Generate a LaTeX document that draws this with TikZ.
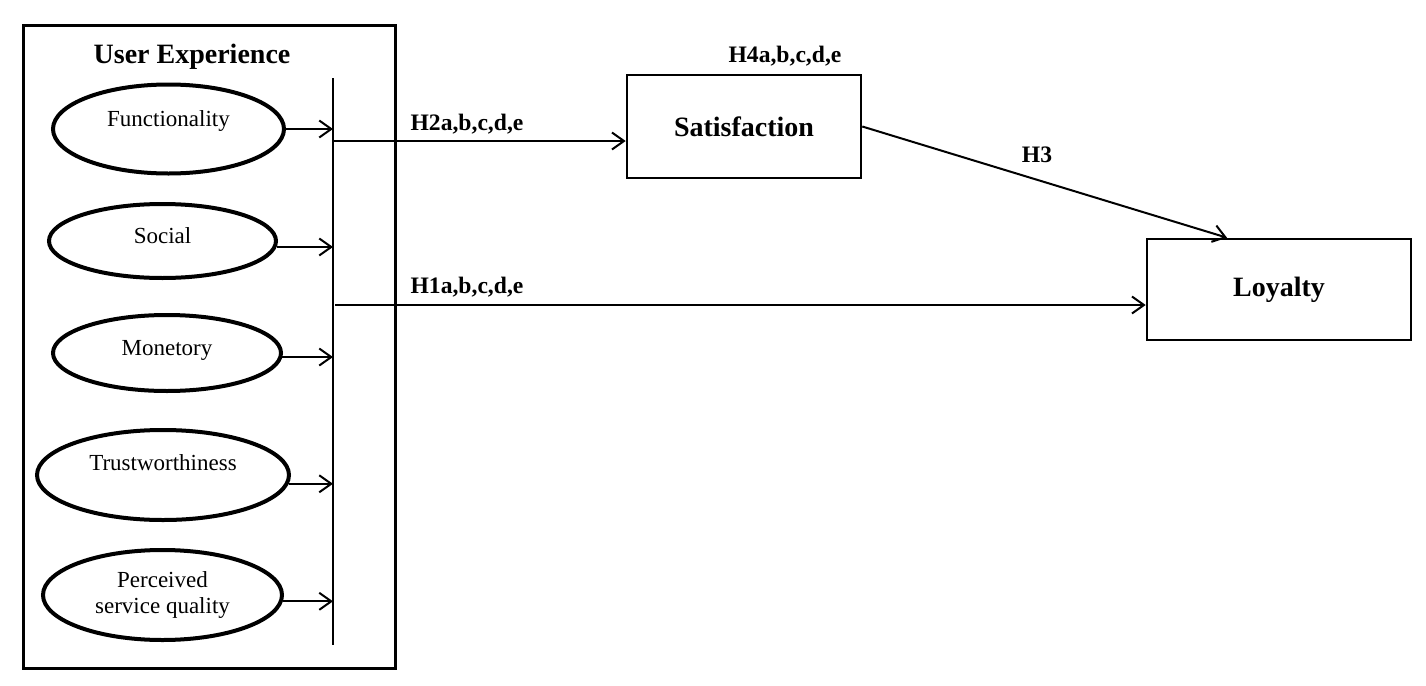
\documentclass[tikz,border=0pt]{standalone}
\usepackage{fontspec}
\setmainfont{Liberation Serif}
\usepackage{tikz}
\usetikzlibrary{positioning, calc, shapes, arrows.meta}

\begin{document}
\begin{tikzpicture}[x=0.5pt, y=-0.5pt,
        oval/.style={ellipse, draw, line width=2pt, inner sep=0pt},
        ovaltext/.style={font=\fontsize{11.5}{13}\selectfont, align=center, inner sep=0pt},
        box/.style={rectangle, draw, line width=1.3pt, inner sep=0pt},
        boxtext/.style={font=\fontsize{14}{16}\selectfont\bfseries},
        hyp/.style={font=\fontsize{11.8}{13}\selectfont\bfseries, anchor=base, inner sep=0pt},
        arr/.style={-{Straight Barb[length=6pt, width=8.5pt]}, line width=1pt}
    ]

    \useasboundingbox (0,0) rectangle (1426,686);

    \node[box, line width=1.5pt, minimum width=186pt, minimum height=321.5pt] (ux) at (209,346.5) {};
    \node[boxtext, anchor=base, inner sep=0pt] (uxtitle) at (192,63) {User Experience};

    \coordinate (bartop) at (333,78);
    \coordinate (barbot) at (333,645);
    \draw[line width=1pt] (bartop) -- (barbot);

    \node[oval, minimum width=115.5pt, minimum height=44.5pt] (func) at (168.5,129) {};
    \node[oval, minimum width=113.5pt, minimum height=37pt] (soc) at (162.5,241) {};
    \node[oval, minimum width=114pt, minimum height=38pt] (mon) at (167,353) {};
    \node[oval, minimum width=126pt, minimum height=45pt] (trust) at (163,475) {};
    \node[oval, minimum width=119.5pt, minimum height=45pt] (qual) at (162.5,595) {};

    \node[ovaltext, anchor=base] (functxt) at ([yshift=1.5pt]func.center) {Functionality};
    \node[ovaltext, anchor=base] (soctxt) at ([yshift=-1pt]soc.center) {Social};
    \node[ovaltext, anchor=base] (montxt) at ([yshift=-1pt]mon.center) {Monetory};
    \node[ovaltext, anchor=base] (trusttxt) at ([yshift=2.5pt]trust.center) {Trustworthiness};
    \node[ovaltext] (qualtxt) at (qual.center) {Perceived\\ service quality};

    \draw[arr] (func.east) -- (func.east -| bartop);
    \draw[arr] (soc.357.5) -- (soc.357.5 -| bartop);
    \draw[arr] (mon.358.5) -- (mon.358.5 -| bartop);
    \draw[arr] (trust.356.4) -- (trust.356.4 -| bartop);
    \draw[arr] (qual.357.6) -- (qual.357.6 -| bartop);

    \node[box, boxtext, minimum width=117pt, minimum height=51.5pt] (sat) at (744,126.5) {Satisfaction};
    \node[box, boxtext, minimum width=132pt, minimum height=50.5pt] (loy) at (1279,289.5) {Loyalty};

    \coordinate (h2start) at (333,141);
    \coordinate (h1start) at (335,305);
    \draw[arr] (h2start) -- (h2start -| sat.west);
    \draw[arr] (h1start) -- (h1start -| loy.west);
    \draw[arr] (sat.east) -- ($(loy.north)+(-52,0)$);

    \node[hyp] (h2lab) at (467,130) {H2a,b,c,d,e};
    \node[hyp] (h1lab) at (467,293) {H1a,b,c,d,e};
    \node[hyp] (h4lab) at (785,62) {H4a,b,c,d,e};
    \node[hyp] (h3lab) at (1037,162) {H3};

\end{tikzpicture}
\end{document}
